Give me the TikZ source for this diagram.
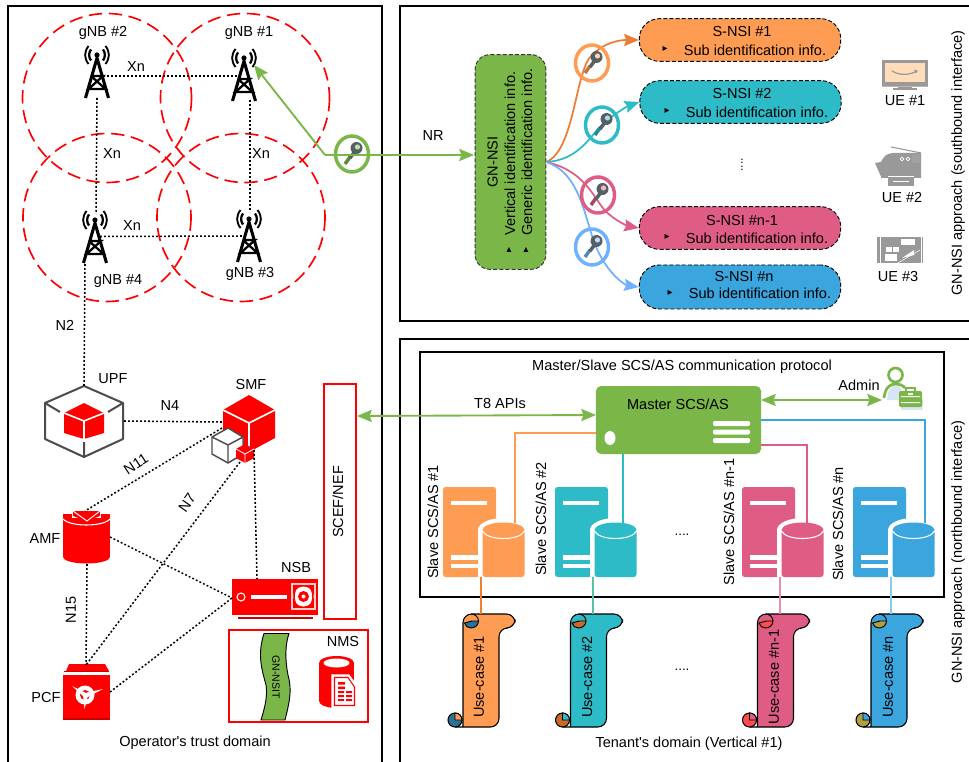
\documentclass[tikz,border=0pt]{standalone}
\usepackage{fontspec}
\setmainfont{Liberation Sans}
\newfontfamily\plainfont{Liberation Sans}
\newfontfamily\djfont{DejaVu Sans}
\usetikzlibrary{arrows.meta}
\definecolor{cgreen}{HTML}{7AB648}
\definecolor{corange}{HTML}{FF9C54}
\definecolor{cdorange}{HTML}{ED7D31}
\definecolor{cteal}{HTML}{2CBBC7}
\definecolor{cpink}{HTML}{DF5D85}
\definecolor{cblue}{HTML}{3BA5DE}
\definecolor{clblue}{HTML}{6FB1FF}
\definecolor{cred}{HTML}{FF0000}
\definecolor{cdred}{HTML}{C80000}
\definecolor{cgray}{HTML}{999999}
\definecolor{ckey}{HTML}{555F66}
\definecolor{cpale}{HTML}{D8E6F4}
\definecolor{cpeach}{HTML}{FFDDBB}
\definecolor{cseagreen}{HTML}{5CBFA8}
\tikzset{
  txt/.style={inner sep=0pt,font=\fontsize{10.9pt}{13pt}\selectfont},
  bullet/.style={inner sep=0pt,font=\djfont\fontsize{7.5pt}{8pt}\selectfont},
  cell/.style={draw=cred,line width=1.25pt,dash pattern=on 10pt off 5pt},
  dots/.style={draw=black,line width=1.15pt,dash pattern=on 1.4pt off 1.6pt},
  panel/.style={draw=black,line width=1.5pt},
  gline/.style={draw=cgreen,line width=1.4pt},
  ghead/.style={-{Stealth[length=11pt,width=9pt,inset=1.5pt]}},
  gdouble/.style={{Stealth[length=11pt,width=9pt,inset=1.5pt]}-{Stealth[length=11pt,width=9pt,inset=1.5pt]}},
  sbox/.style={draw=black,line width=.7pt,dash pattern=on 3pt off 1.6pt,rounded corners=15pt,minimum width=151pt,minimum height=32pt,inner sep=0pt},
  curvehead/.style={-{Stealth[length=11pt,width=9pt,inset=1.5pt]},line width=1.3pt},
  link/.style={line width=1.5pt},
  whiteln/.style={draw=white,line width=1.2pt},
  redbox/.style={draw=cred,line width=1.4pt,fill=white,inner sep=0pt},
}
% tower: origin top centre
\newcommand{\towericon}[3]{%
\begin{scope}[shift={(#2,#3)}]
  \coordinate (#1) at (0,0);
  \fill (0,10) circle (2.6);
  \draw[line width=1.7pt] (-6,4.5) .. controls (-8.5,8) and (-8.5,12) .. (-6,15.5);
  \draw[line width=1.7pt] (6,4.5) .. controls (8.5,8) and (8.5,12) .. (6,15.5);
  \draw[line width=1.4pt] (-8.5,1) .. controls (-13,7) and (-13,13) .. (-8.5,19);
  \draw[line width=1.4pt] (8.5,1) .. controls (13,7) and (13,13) .. (8.5,19);
  \draw[line width=2.3pt,line join=round] (-11.5,53) -- (0,13) -- (11.5,53);
  \draw[line width=1.7pt] (-6,31) -- (6,31) -- (-8.5,44) -- (8.5,44) -- (-6,31);
\end{scope}}
% key with ring
\newcommand{\keyicon}[4]{%
\begin{scope}[shift={(#2,#3)}]
  \coordinate (#1) at (0,0);
  \draw[#4,line width=2.6pt] (0,0) ellipse [x radius=16.5,y radius=18];
  \draw[#4!75!black,line width=2.6pt] (-2,3) -- (-7,10);
  \draw[ckey,line width=2.6pt] (4,-4) -- (-2,4);
  \fill[ckey] (4.5,-6) circle (6);
  \fill[#4!45!white] (5.5,-7) circle (2.6);
\end{scope}}
% slave server
\newcommand{\slaveicon}[3]{%
\begin{scope}[shift={(#2,0)}]
  \coordinate (#1b) at (38,577);
  \fill[#3,rounded corners=2pt] (0,577) -- (0,487) -- (53,487) -- (53,577) -- cycle;
  \fill[white] (8,501) rectangle (44,505);
  \fill[white] (8,555) rectangle (37,560);
  \fill[white] (8,563.5) rectangle (37,568);
  \fill[white] (60.5,530) ellipse [x radius=25.5,y radius=12];
  \fill[white] (35,530) rectangle (86,578);
  \fill[#3] (60.5,530) ellipse [x radius=21,y radius=7.5];
  \fill[#3,rounded corners=2pt] (39.5,530) rectangle (81.5,577);
  \draw[white,line width=.8pt] (39.5,531) .. controls (44,541) and (77,541) .. (81.5,531);
\end{scope}}
% scroll: x = left edge of body
\newcommand{\scrollicon}[5]{%
\begin{scope}[shift={(#2,0)}]
  \coordinate (#1) at (18,614);
  \draw[black,line width=.8pt,fill=#3,rounded corners=6.5pt] (-8,727) -- (36,727) -- (36,628) -- (52,628) -- (52,614) -- (0,614) -- (0,727);
  \draw[black,line width=.7pt,fill=#4] (9,621) -- (15.5,621) .. controls (15.5,625) and (12,628) .. (8,628) .. controls (5,628) and (2,626) .. (1.5,623) -- cycle;
  \draw[black,line width=.7pt] (8,614) .. controls (12,614) and (15.5,617) .. (15.5,621);
  \draw[black,line width=.8pt,fill=#4] (-8,720) circle (7);
  \draw[black,line width=.7pt,fill=#3] (-8,720) -- (-1,720) .. controls (-1,716.1) and (-4.1,713) .. (-8,713) -- cycle;
  \node[txt,rotate=90] (#1t) at (#5,677) {\scrolllabel};
\end{scope}}
\newcommand{\scrolllabel}{}
\begin{document}
\begin{tikzpicture}[x=0.75pt,y=-0.75pt]
\useasboundingbox (0,0) rectangle (969,762);
\clip (0,0) rectangle (969,762);
\fill[white] (0,0) rectangle (969,762);

% panels
\node[panel,minimum width=280.5pt,minimum height=580pt,inner sep=0pt] (opdomain) at (195,392.7) {};
\node[panel,minimum width=480pt,minimum height=236pt,inner sep=0pt] (south) at (720,163.5) {};
\node[panel,minimum width=480pt,minimum height=330pt,inner sep=0pt] (north) at (720,559) {};
\node[panel,minimum width=393pt,minimum height=183.75pt,inner sep=0pt] (protocol) at (682,474.5) {};

% radio cells
\draw[cell] (107,98) circle (84.5);
\draw[cell] (245,98) circle (84.5);
\draw[cell] (107,217.5) circle (84);
\draw[cell] (241,217.5) circle (84);

% towers
\towericon{g2}{97}{45}
\towericon{g1}{244}{48}
\towericon{g4}{95}{210}
\towericon{g3}{249}{209}
\coordinate (g2e) at (103,76);
\coordinate (g1w) at (238,76);
\coordinate (g2s) at (97,98);
\coordinate (g4n) at (96,214);
\coordinate (g1s) at (250,100);
\coordinate (g3n) at (250,212);
\coordinate (g4e) at (100,236.5);
\coordinate (g3w) at (245,236);
\coordinate (g4s) at (85,264);
\coordinate (g1ant) at (254,65);

% cube UPF
\coordinate (upfn) at (84,386);
\coordinate (upfe) at (124,421);
\draw[draw=black!70,line width=1.5pt,line join=round] (84,386) -- (123,403) -- (123,439) -- (84,457) -- (45,439) -- (45,403) -- cycle;
\draw[draw=black!70,line width=1.5pt] (45,403) -- (60,412) (123,403) -- (108,412) (84,457) -- (84,442);
\fill[cred] (84,403) -- (104,413) -- (104,433) -- (84,439) -- (64,433) -- (64,413) -- cycle;
\draw[whiteln] (64,413) -- (84,421) -- (104,413) (84,421) -- (84,439);

% SMF cubes
\fill[cred] (249,395) -- (275,410) -- (275,438) -- (249,452) -- (223,438) -- (223,410) -- cycle;
\draw[whiteln] (223,410) -- (249,423) -- (275,410) (249,423) -- (249,452);
\filldraw[fill=white,draw=black!70,line width=1.1pt,line join=round] (228,428) -- (243,437) -- (243,454) -- (228,463) -- (212,454) -- (212,437) -- cycle;
\draw[draw=black!70,line width=1.1pt] (212,437) -- (228,445) -- (243,437) (228,445) -- (228,463);
\fill[cred] (245,444) -- (254,449) -- (254,458) -- (245,463) -- (236,458) -- (236,449) -- cycle;
\draw[draw=white,line width=.6pt] (236,449) -- (245,454) -- (254,449) (245,454) -- (245,463);
\coordinate (smfw) at (222,422);
\coordinate (smfsw) at (222,428);
\coordinate (smfs) at (254,450);
\coordinate (smfn7) at (240,462);

% AMF
\fill[cred] (63,514) rectangle (110,557);
\fill[cred] (86.5,520) ellipse [x radius=23.5,y radius=7];
\fill[cred] (86.5,557) ellipse [x radius=23.5,y radius=6.5];
\draw[whiteln,line width=.8pt] (63,519) .. controls (70,527) and (103,527) .. (110,519);
\fill[white] (72,510) rectangle (101,518);
\fill[cred] (73,511) -- (100,511) -- (100,516) -- (87,521) -- (73,516) -- cycle;
\draw[white,line width=.7pt] (73,511) -- (87,521) -- (100,511);
\coordinate (amfn) at (85,511);
\coordinate (amfe) at (110,537);
\coordinate (amfs) at (87,564);

% PCF
\fill[cred] (66,671) -- (69,664) -- (105,664) -- (109,671) -- cycle;
\fill[cred] (63,675) rectangle (110,720);
\fill[cdred] (63,718) rectangle (110,720);
\fill[cdred] (64,671) rectangle (109,672);
\coordinate (pcfn) at (86,665);
\coordinate (pcfe) at (110,692);
\fill[white] (85,695) circle (9.5);
\fill[cred] (85,695) circle (5);
\fill[white] (85,695) circle (2.2);
\fill[white] (72,686) -- (85,692.5) -- (84,697) -- cycle;
\fill[white] (103,689) -- (85,693) -- (86,698) -- cycle;
\fill[white] (84.5,709) -- (83,695) -- (88,695) -- cycle;

% NSB
\node[fill=cred,minimum width=64.5pt,minimum height=27pt,inner sep=0pt] (nsb) at (275,597) {};
\fill[cdred] (238,617) rectangle (313,618.5);
\draw[white,line width=.8pt] (241,597) circle (4);
\fill[white] (251,595) rectangle (287,599);
\draw[white!80!red,line width=.8pt] (292,584) rectangle (315,609);
\fill[white] (303.5,596.5) circle (10);
\fill[cred] (303.5,596.5) circle (5.5);
\fill[white] (303.5,596.5) circle (2);
\draw[cred,line width=.8pt] (298,586) .. controls (293,592) and (293,601) .. (298,607);
\draw[cred,line width=.8pt] (309,586) .. controls (314,592) and (314,601) .. (309,607);
\coordinate (nsbn) at (257,579);
\coordinate (nsbw) at (232,598);

% SCEF/NEF
\node[redbox,minimum width=24pt,minimum height=176pt] (scef) at (340,501.5) {};
\node[txt,rotate=90] (sceft) at (338,502) {SCEF/NEF};

% NMS
\node[redbox,minimum width=104pt,minimum height=69pt] (nms) at (298.5,676) {};
\filldraw[fill=cgreen,draw=black,line width=.7pt] (264,633.5) .. controls (257,655) and (262,670) .. (266,685) .. controls (268,697) and (264,710) .. (261,720) -- (285,720) .. controls (290,700) and (292,690) .. (288,675) .. controls (285,660) and (285,645) .. (289,633.5) -- cycle;
\node[inner sep=0pt,font=\fontsize{7.9pt}{9pt}\selectfont,rotate=-90] (nsit) at (276,677) {GN-NSIT};
\fill[cred] (319,663) rectangle (354,701);
\fill[cred] (336.5,663) ellipse [x radius=17.5,y radius=7];
\fill[cred] (336.5,701) ellipse [x radius=17.5,y radius=7];
\fill[white] (336.5,663) ellipse [x radius=13,y radius=4.5];
\filldraw[fill=white,draw=white,line width=.8pt] (332,675) -- (349,675) -- (357,686) -- (357,708) -- (332,708) -- cycle;
\draw[cred,line width=.8pt] (334.5,677.5) -- (348,677.5) -- (354.5,687) -- (354.5,705.5) -- (334.5,705.5) -- cycle;
\fill[cred] (338,682) rectangle (345,684.5) (338,686.5) rectangle (345,689) (338,691) rectangle (344,693) (346,691) rectangle (352,693) (338,695) rectangle (344,697) (346,695) rectangle (352,697) (338,699) rectangle (344,701) (346,699) rectangle (352,701);

% dotted connectors
\draw[dots] (g2e) -- (g1w);
\draw[dots] (g2s) -- (g4n);
\draw[dots] (g1s) -- (g3n);
\draw[dots] (g4e) -- (g3w);
\draw[dots] (g4s) -- (upfn);
\draw[dots] (upfe) -- (smfw);
\draw[dots] (smfsw) -- (amfn);
\draw[dots] (smfn7) -- (pcfn);
\draw[dots] (smfs) -- (nsbn);
\draw[dots] (amfe) -- (nsbw);
\draw[dots] (amfs) -- (pcfn);
\draw[dots] (pcfe) -- (nsbw);

% left labels
\node[txt] (lg2) at (103,33) {gNB \#2};
\node[txt] (lg1) at (249,33) {gNB \#1};
\node[txt] (lg4) at (118,281) {gNB \#4};
\node[txt] (lg3) at (250,274) {gNB \#3};
\node[txt] (lx1) at (136,67) {Xn};
\node[txt] (lx2) at (112,154) {Xn};
\node[txt] (lx3) at (261,154) {Xn};
\node[txt] (lx4) at (132,226) {Xn};
\node[txt] (ln2) at (65,325) {N2};
\node[txt] (lupf) at (113,379) {UPF};
\node[txt] (lsmf) at (251,384) {SMF};
\node[txt] (ln4) at (170,405) {N4};
\node[txt,rotate=33] (ln11) at (136,464) {N11};
\node[txt,rotate=55] (ln7) at (187,503) {N7};
\node[txt] (lamf) at (45,538) {AMF};
\node[txt] (lpcf) at (46,697) {PCF};
\node[txt,rotate=90] (ln15) at (71,610) {N15};
\node[txt] (lnsb) at (296,567) {NSB};
\node[txt] (lnms) at (343,641) {NMS};
\node[txt] (ltrust) at (195,743) {\plainfont Operator's trust domain};

% GN-NSI
\node[fill=cgreen,draw=black!80,line width=.7pt,dash pattern=on 3pt off 1.6pt,rounded corners=11pt,minimum width=53pt,minimum height=161pt,inner sep=0pt] (gnsi) at (510.5,162) {};
\node[txt,rotate=90] (gnsia) at (492.5,162) {GN-NSI};
\node[txt,rotate=90,anchor=west] (gnsib) at (510,236) {Vertical identification info.};
\node[txt,rotate=90,anchor=west] (gnsic) at (527,236) {Generic identification info.};
\node[bullet,rotate=90] (gnsid) at (509,250) {▸};
\node[bullet,rotate=90] (gnsie) at (526,250) {▸};

% S-NSI
\node[sbox,fill=corange] (s1) at (740,40) {};
\node[sbox,fill=cteal] (s2) at (740.5,102) {};
\node[sbox,fill=cpink] (s3) at (740,228) {};
\node[sbox,fill=cblue,minimum height=33pt] (s4) at (740,287) {};
\node[txt] (s1a) at (742,32) {S-NSI \#1};
\node[bullet] (s1b) at (665,49) {▸};
\node[txt] (s1c) at (755,50) {Sub identification info.};
\node[txt] (s2a) at (742,94) {S-NSI \#2};
\node[bullet] (s2b) at (667,111) {▸};
\node[txt] (s2c) at (757,112) {Sub identification info.};
\node[txt] (s3a) at (742,220) {S-NSI \#n-1};
\node[bullet] (s3b) at (667,237) {▸};
\node[txt] (s3c) at (757,238) {Sub identification info.};
\node[txt] (s4a) at (744,276) {S-NSI \#n};
\node[bullet] (s4b) at (670,293) {▸};
\node[txt] (s4c) at (760,293) {Sub identification info.};
\node[inner sep=0pt,rotate=90,font=\fontsize{9pt}{10pt}\selectfont] (vdots) at (742,165) {....};

% curves from GN-NSI
\draw[cdorange,curvehead] (gnsi.east) .. controls (575,150) and (575,70) .. (592,55) .. controls (605,42) and (620,40) .. (s1.west);
\draw[cteal,curvehead] (gnsi.east) .. controls (580,160) and (590,135) .. (605,122) .. controls (617,112) and (628,106) .. (s2.west);
\draw[cpink,curvehead] (gnsi.east) .. controls (590,172) and (595,205) .. (610,215) .. controls (618,222) and (628,226) .. (s3.west);
\draw[clblue,curvehead] (gnsi.east) .. controls (585,175) and (585,230) .. (600,255) .. controls (610,275) and (625,285) .. (s4.west);
\keyicon{k1}{592}{63}{corange}
\keyicon{k2}{602}{125}{cteal}
\keyicon{k3}{598}{195}{cpink}
\keyicon{k4}{592}{247}{clblue}

% green key and link
\coordinate (gbend) at (325,155);
\coordinate (gnsiin) at (474,155);
\keyicon{k0}{352}{154}{cgreen}
\draw[gline,ghead] (gbend) -- (g1ant);
\draw[gline,ghead] (gbend) -- (gnsiin);
\node[txt] (lnr) at (433,136) {NR};

% UE icons
\fill[cgray] (882,60) rectangle (928,86);
\fill[cpeach] (885,63) rectangle (925,82);
\draw[cgray,line width=.9pt] (892,71) .. controls (900,76) and (910,75) .. (917,71);
\draw[cgray,line width=.7pt] (914,70) -- (917,71) -- (916,73);
\fill[cgray] (898,86) rectangle (912,88);
\fill[cgray] (893,88) rectangle (917,90.5);
\draw[cdorange!50!black!40,line width=.5pt] (882,86) -- (928,86);
\node[txt] (lu1) at (905,101) {UE \#1};

\draw[cgray,line width=.8pt] (891,147) -- (921,153);
\fill[cgray] (881,178) -- (881,162) .. controls (883,157) and (887,153) .. (893,153) -- (921,153) -- (921,178) -- cycle;
\fill[cgray] (875,163) -- (881,162) -- (882,179) -- cycle;
\fill[cgray] (888,175) rectangle (914,186);
\draw[white,line width=.4pt] (888,176) -- (914,176) (893,181) -- (909,181);
\draw[white,line width=.5pt] (902,159) circle (1.8) (908,159) circle (1.8);
\foreach \gx in {913,915,917,919}{\foreach \gy in {156,158,160,162}{\fill[white] (\gx,\gy) circle (.45);}}
\node[txt] (lu2) at (902,197) {UE \#2};

\fill[cgray] (877,237) rectangle (923,263.5);
\draw[white,line width=.4pt] (880,237) -- (880,263.5) (921,237) -- (921,263.5);
\fill[white] (901,239) rectangle (915,245);
\fill[white] (886,247) rectangle (892,252);
\fill[white] (893,247) rectangle (899,252);
\fill[white] (885,254) rectangle (897,261);
\fill[white] (902,258) -- (914,250) -- (914,255) -- cycle;
\draw[white,line width=.4pt] (897,263.5) -- (920,250);
\node[txt] (lu3) at (898,276) {UE \#3};

\node[txt,rotate=90] (lsouth) at (958,163) {GN-NSI approach (southbound interface)};
\node[txt,rotate=90] (lnorth) at (958,552) {GN-NSI approach (northbound interface)};

% master
\node[fill=cgreen,rounded corners=4pt,minimum width=124pt,minimum height=51pt,inner sep=0pt] (master) at (678.5,420) {};
\node[txt] (mastert) at (678,404) {Master SCS/AS};
\fill[white] (610,438) ellipse [x radius=5.5,y radius=7];
\fill[white,rounded corners=1pt] (713,421) rectangle (750,426) (713,429.5) rectangle (750,434.5) (713,438) rectangle (750,443);
\node[txt] (lproto) at (682,367) {Master/Slave SCS/AS communication protocol};
\node[txt] (lt8) at (500,403) {T8 APIs};
\node[txt] (ladmin) at (859,385) {Admin};

\coordinate (scefe) at (357,416);
\coordinate (mt8) at (596,415);
\draw[gline,gdouble] (scefe) -- (mt8);
\coordinate (med) at (761,400);
\coordinate (adm) at (882,400);
\draw[gline,gdouble] (med) -- (adm);

% admin icon
\fill[cpale] (887,400) .. controls (888,388) and (892,384) .. (899,384) -- (905,400) -- cycle;
\fill[cpale] (901,399) rectangle (923,410);
\draw[cgreen,line width=2pt] (895.5,375) circle (7);
\draw[cgreen,line width=2pt] (884,398) .. controls (885,389) and (889,384) .. (895,384) .. controls (899,384) and (903,385) .. (905,388);
\fill[cgreen,rounded corners=1pt] (899,391) rectangle (922,407);
\draw[cgreen,line width=1pt] (906,391) -- (906,388) -- (915,388) -- (915,391);
\fill[white] (901,396) rectangle (920,397) (901,402) rectangle (920,403);
\fill[white] (908,393) rectangle (913,395);

% links master to slaves
\coordinate (mo) at (596,433);
\coordinate (mt) at (623,454);
\coordinate (mp) at (761,445);
\coordinate (mb) at (761,420);
\slaveicon{sv1}{443}{corange}
\slaveicon{sv2}{555}{cteal}
\slaveicon{sv3}{742}{cpink}
\slaveicon{sv4}{853}{cblue}
\coordinate (sv1top) at (515,523);
\coordinate (sv2top) at (623,523);
\coordinate (sv3top) at (807,523);
\coordinate (sv4top) at (925,523);
\draw[corange,link] (mo) -| (sv1top);
\draw[cteal,link] (mt) -- (sv2top);
\draw[cpink,link] (mp) -| (sv3top);
\draw[cblue,link] (mb) -| (sv4top);
\node[txt,rotate=90] (ls1) at (433,522) {Slave SCS/AS \#1};
\node[txt,rotate=90] (ls2) at (541,519) {Slave SCS/AS \#2};
\node[txt,rotate=90] (ls3) at (729,522) {Slave SCS/AS \#n-1};
\node[txt,rotate=90] (ls4) at (838,524) {Slave SCS/AS \#n};
\node[inner sep=0pt] (dot1) at (682,535) {....};

% scrolls
\renewcommand{\scrolllabel}{Use-case \#1}\scrollicon{uc1}{463}{corange}{cblue!70!black}{16}
\renewcommand{\scrolllabel}{Use-case \#2}\scrollicon{uc2}{570.5}{cteal}{cdorange!85!black}{16.5}
\renewcommand{\scrolllabel}{Use-case \#n-1}\scrollicon{uc3}{757.5}{cpink}{red!70!white}{16.5}
\renewcommand{\scrolllabel}{Use-case \#n}\scrollicon{uc4}{871}{cblue}{yellow!60!black!90!orange}{17}
\draw[cdorange,link] (sv1b) -- (sv1b |- uc1);
\draw[cseagreen,link] (sv2b) -- (sv2b |- uc2);
\draw[cpink!70!white,link] (sv3b) -- (sv3b |- uc3);
\draw[cblue!60!white,link] (sv4b) -- (sv4b |- uc4);
\node[inner sep=0pt] (dot2) at (682,670) {....};
\node[txt] (ltenant) at (689,744) {\plainfont Tenant's domain (Vertical \#1)};
\end{tikzpicture}
\end{document}
